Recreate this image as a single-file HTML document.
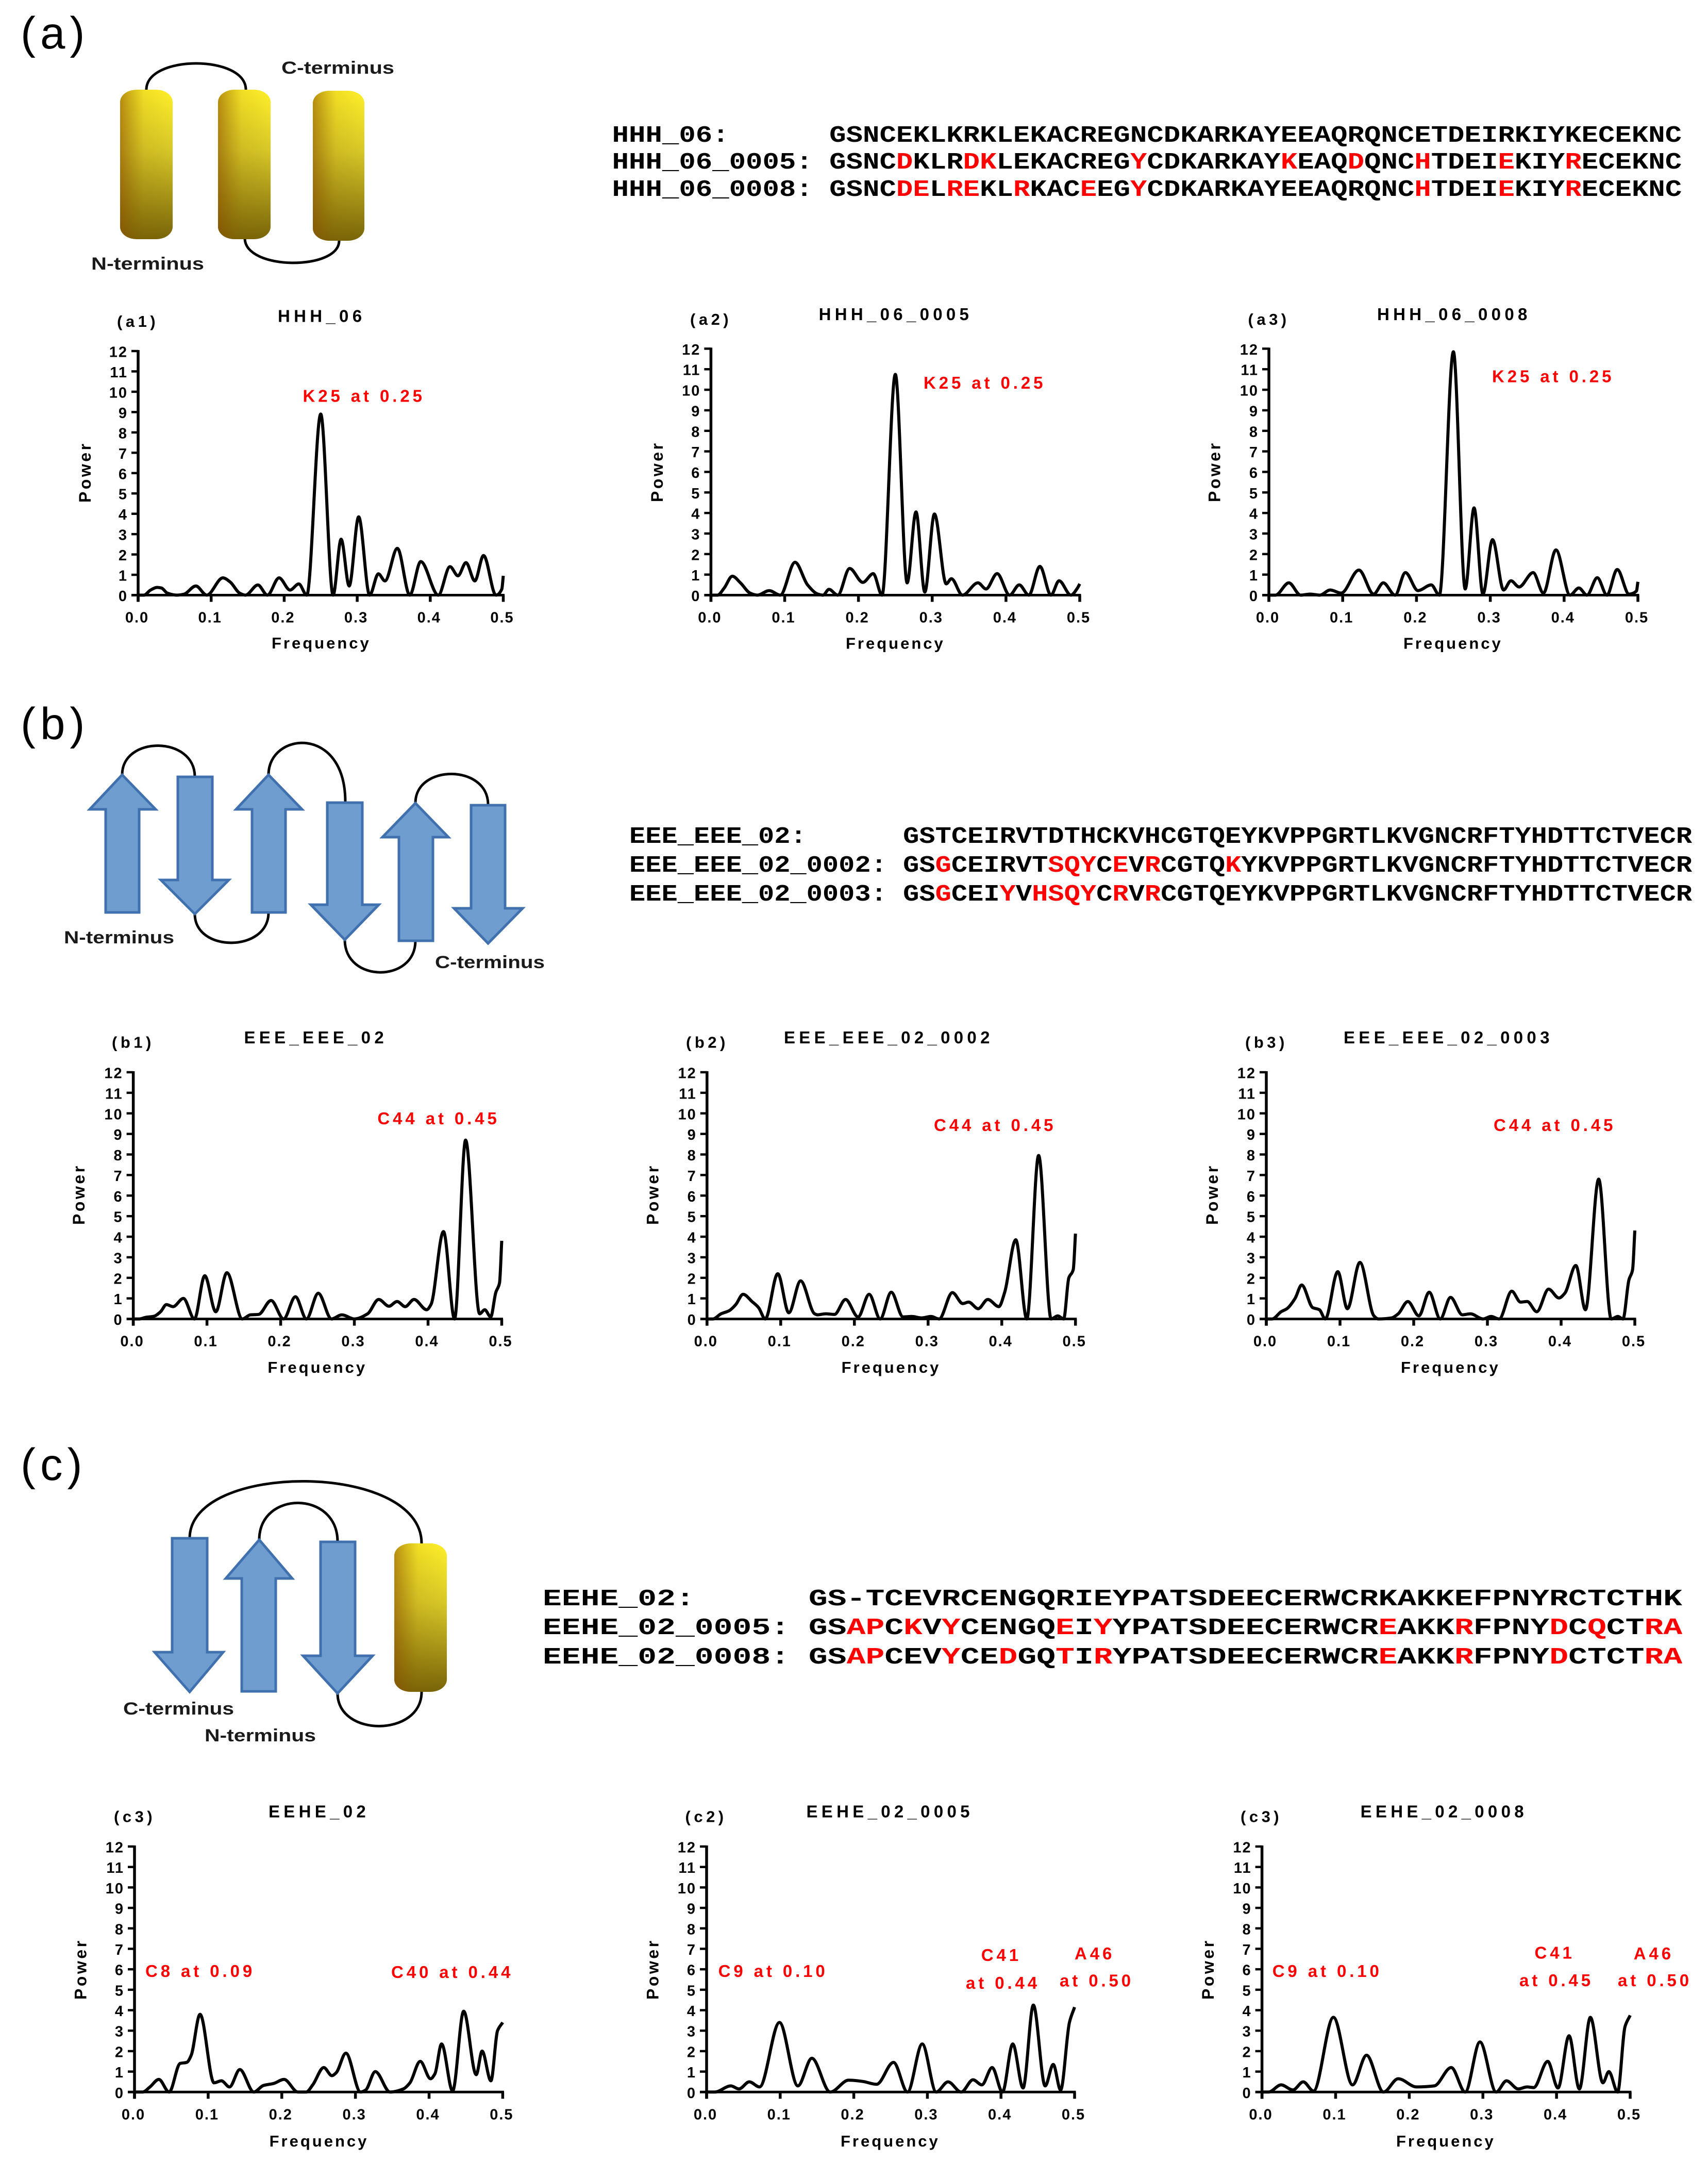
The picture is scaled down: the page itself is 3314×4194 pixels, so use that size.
<!DOCTYPE html>
<html lang="en">
<head>
<meta charset="utf-8">
<title>Protein periodograms</title>
<style>
html,body{margin:0;padding:0;background:#fff}
svg{display:block}
text{font-family:"Liberation Sans",Arial,sans-serif}
.seq{font-family:"Liberation Mono","Courier New",monospace;font-weight:700;font-size:45px;fill:#000;white-space:pre}
.m{fill:#f00}
.term{font-weight:700;font-size:34px;fill:#1a1a1a}
.sec{font-size:87px;letter-spacing:9px;fill:#000}
.loop{fill:none;stroke:#000;stroke-width:5;stroke-linecap:round}
.strand{fill:#709dd0;stroke:#4070ae;stroke-width:5;stroke-linejoin:miter}
</style>
</head>
<body>
<svg id="fig" xmlns="http://www.w3.org/2000/svg" width="3314" height="4194" viewBox="0 0 3314 4194">
<defs>
<linearGradient id="cylV" x1="0" y1="0" x2="0" y2="1"><stop offset="0" stop-color="#fff02a"/><stop offset="0.4" stop-color="#d8c828"/><stop offset="1" stop-color="#786408"/></linearGradient>
<linearGradient id="cylH" x1="0" y1="0" x2="1" y2="0"><stop offset="0" stop-color="#8a4c00" stop-opacity="0.6"/><stop offset="0.45" stop-color="#8a6000" stop-opacity="0.12"/><stop offset="1" stop-color="#8a6000" stop-opacity="0"/></linearGradient>
</defs>
<rect width="3314" height="4194" fill="#fff"/>

<text class="sec" x="40" y="94">(a)</text>
<text class="sec" x="40" y="1434">(b)</text>
<text class="sec" x="40" y="2871">(c)</text>

<g>
<path class="loop" d="M284 174C284 106 477 106 477 174"/>
<path class="loop" d="M475 462C475 525 658 525 658 467"/>
<rect x="233" y="174" width="102" height="290" rx="32" ry="24" fill="url(#cylV)"/>
<rect x="233" y="174" width="102" height="290" rx="32" ry="24" fill="url(#cylH)"/>
<rect x="423" y="174" width="102" height="290" rx="32" ry="24" fill="url(#cylV)"/>
<rect x="423" y="174" width="102" height="290" rx="32" ry="24" fill="url(#cylH)"/>
<rect x="607" y="176" width="100" height="291" rx="32" ry="24" fill="url(#cylV)"/>
<rect x="607" y="176" width="100" height="291" rx="32" ry="24" fill="url(#cylH)"/>
<text class="term" x="546" y="143" textLength="219" lengthAdjust="spacingAndGlyphs">C-terminus</text>
<text class="term" x="177" y="523" textLength="219" lengthAdjust="spacingAndGlyphs">N-terminus</text>
</g>

<g transform="translate(1187.6,0)">
<g transform="translate(0,275) scale(1.2013,1)"><text class="seq" xml:space="preserve">HHH_06:      GSNCEKLKRKLEKACREGNCDKARKAYEEAQRQNCETDEIRKIYKECEKNC</text></g>
<g transform="translate(0,327) scale(1.2013,1)"><text class="seq" xml:space="preserve">HHH_06_0005: GSNC<tspan class="m">D</tspan>KLR<tspan class="m">DK</tspan>LEKACREG<tspan class="m">Y</tspan>CDKARKAY<tspan class="m">K</tspan>EAQ<tspan class="m">D</tspan>QNC<tspan class="m">H</tspan>TDEI<tspan class="m">E</tspan>KIY<tspan class="m">R</tspan>ECEKNC</text></g>
<g transform="translate(0,380) scale(1.2013,1)"><text class="seq" xml:space="preserve">HHH_06_0008: GSNC<tspan class="m">DE</tspan>L<tspan class="m">RE</tspan>KL<tspan class="m">R</tspan>KAC<tspan class="m">E</tspan>EG<tspan class="m">Y</tspan>CDKARKAYEEAQRQNC<tspan class="m">H</tspan>TDEI<tspan class="m">E</tspan>KIY<tspan class="m">R</tspan>ECEKNC</text></g>
</g>

<g>
<path class="loop" d="M237 1503C237 1427 378 1427 378 1507"/>
<path class="loop" d="M521 1503C521 1420 670 1405 670 1556"/>
<path class="loop" d="M806 1558C806 1482 947 1482 947 1561"/>
<path class="loop" d="M378 1773C378 1848 521 1848 521 1770"/>
<path class="loop" d="M669 1823C669 1907 806 1907 806 1825"/>
<path class="strand" d="M205 1770V1570H174L237 1503L302 1570H270V1770Z"/>
<path class="strand" d="M345 1507V1707H312L378 1773L444 1707H412V1507Z"/>
<path class="strand" d="M489 1770V1570H458L521 1503L586 1570H554V1770Z"/>
<path class="strand" d="M635 1557V1755H603L669 1823L735 1755H703V1557Z"/>
<path class="strand" d="M774 1825V1624H742L806 1558L870 1624H840V1825Z"/>
<path class="strand" d="M914 1562V1762H881L947 1830L1014 1762H980V1562Z"/>
<text class="term" x="124" y="1830" textLength="214" lengthAdjust="spacingAndGlyphs">N-terminus</text>
<text class="term" x="844" y="1878" textLength="213" lengthAdjust="spacingAndGlyphs">C-terminus</text>
</g>

<g transform="translate(1221,0)">
<g transform="translate(0,1635) scale(1.1572,1)"><text class="seq" xml:space="preserve">EEE_EEE_02:      GSTCEIRVTDTHCKVHCGTQEYKVPPGRTLKVGNCRFTYHDTTCTVECR</text></g>
<g transform="translate(0,1691) scale(1.1572,1)"><text class="seq" xml:space="preserve">EEE_EEE_02_0002: GS<tspan class="m">G</tspan>CEIRVT<tspan class="m">SQY</tspan>C<tspan class="m">E</tspan>V<tspan class="m">R</tspan>CGTQ<tspan class="m">K</tspan>YKVPPGRTLKVGNCRFTYHDTTCTVECR</text></g>
<g transform="translate(0,1747) scale(1.1572,1)"><text class="seq" xml:space="preserve">EEE_EEE_02_0003: GS<tspan class="m">G</tspan>CEI<tspan class="m">Y</tspan>V<tspan class="m">HSQY</tspan>C<tspan class="m">R</tspan>V<tspan class="m">R</tspan>CGTQEYKVPPGRTLKVGNCRFTYHDTTCTVECR</text></g>
</g>

<g>
<path class="loop" d="M368 2984C368 2835 818 2835 818 2994"/>
<path class="loop" d="M503 2987C503 2891 655 2891 655 2991"/>
<path class="loop" d="M655 3285C655 3370 818 3370 818 3282"/>
<path class="strand" d="M334 2984V3205H300L368 3282L433 3205H402V2984Z"/>
<path class="strand" d="M469 3281V3062H438L503 2987L567 3062H535V3281Z"/>
<path class="strand" d="M622 2991V3212H588L655 3285L723 3212H689V2991Z"/>
<rect x="765" y="2994" width="102" height="288" rx="32" ry="24" fill="url(#cylV)"/>
<rect x="765" y="2994" width="102" height="288" rx="32" ry="24" fill="url(#cylH)"/>
<text class="term" x="239" y="3326" textLength="215" lengthAdjust="spacingAndGlyphs">C-terminus</text>
<text class="term" x="397" y="3378" textLength="216" lengthAdjust="spacingAndGlyphs">N-terminus</text>
</g>

<g transform="translate(1053,0)">
<g transform="translate(0,3114) scale(1.3649,1)"><text class="seq" xml:space="preserve">EEHE_02:      GS-TCEVRCENGQRIEYPATSDEECERWCRKAKKEFPNYRCTCTHK</text></g>
<g transform="translate(0,3170) scale(1.3649,1)"><text class="seq" xml:space="preserve">EEHE_02_0005: GS<tspan class="m">AP</tspan>C<tspan class="m">K</tspan>V<tspan class="m">Y</tspan>CENGQ<tspan class="m">E</tspan>I<tspan class="m">Y</tspan>YPATSDEECERWCR<tspan class="m">E</tspan>AKK<tspan class="m">R</tspan>FPNY<tspan class="m">D</tspan>C<tspan class="m">Q</tspan>CT<tspan class="m">RA</tspan></text></g>
<g transform="translate(0,3227) scale(1.3649,1)"><text class="seq" xml:space="preserve">EEHE_02_0008: GS<tspan class="m">AP</tspan>CEV<tspan class="m">Y</tspan>CE<tspan class="m">D</tspan>GQ<tspan class="m">T</tspan>I<tspan class="m">R</tspan>YPATSDEECERWCR<tspan class="m">E</tspan>AKK<tspan class="m">R</tspan>FPNY<tspan class="m">D</tspan>CTCT<tspan class="m">RA</tspan></text></g>
</g>

<g id="charts"></g>
</svg>

<script>
const xTicks = [0, 0.1, 0.2, 0.3, 0.4, 0.5];
const xTickLabels = ['0.0', '0.1', '0.2', '0.3', '0.4', '0.5'];
const yTicks = [0, 1, 2, 3, 4, 5, 6, 7, 8, 9, 10, 11, 12];
const yTickLabels = ['0', '1', '2', '3', '4', '5', '6', '7', '8', '9', '10', '11', '12'];

const freqA1 = [0,.008,.017,.026,.032,.04,.053,.063,.079,.094,.116,.126,.139,.147,.164,.177,.193,.208,.22,.231,.25,.267,.278,.289,.302,.317,.329,.338,.355,.372,.387,.411,.427,.438,.449,.461,.473,.49,.498,.5];
const powerA1 = [0,0,.25,.38,.35,.1,0,.05,.45,0,.85,.65,.1,0,.5,0,.85,.25,.55,0,8.9,0,2.75,.45,3.85,0,1.05,.7,2.3,0,1.65,0,1.4,.95,1.6,.7,1.95,0,.3,.95];

const freqA2 = [0,.009,.018,.029,.04,.053,.063,.079,.094,.114,.131,.145,.152,.16,.172,.188,.206,.22,.232,.25,.266,.278,.29,.303,.319,.326,.341,.362,.373,.388,.405,.418,.431,.446,.461,.472,.488,.497,.5];
const powerA2 = [0,0,.35,.92,.6,.1,0,.22,0,1.6,.5,.05,0,.28,0,1.3,.62,1.05,0,10.75,.6,4.05,.15,3.95,.55,.8,0,.6,.3,1.05,0,.5,0,1.4,0,.7,0,.35,.55];

const freqA3 = [0,.009,.027,.043,.056,.069,.083,.098,.122,.142,.155,.171,.185,.202,.22,.231,.25,.266,.278,.29,.303,.318,.328,.339,.358,.372,.389,.408,.42,.431,.445,.458,.472,.488,.498,.5];
const powerA3 = [0,0,.6,0,.05,0,.25,.1,1.22,.05,.6,0,1.1,.22,.5,0,11.85,.3,4.25,.05,2.7,.25,.7,.4,1.1,.1,2.2,0,.35,0,.85,0,1.25,.05,.2,.65];

const freqB1 = [0,.008,.017,.028,.037,.045,.054,.068,.083,.097,.112,.127,.148,.159,.17,.187,.204,.22,.235,.251,.269,.283,.3,.318,.333,.347,.358,.369,.381,.398,.404,.421,.436,.451,.47,.477,.485,.492,.497,.5];
const powerB1 = [0,0,.08,.13,.35,.7,.6,1,0,2.1,.35,2.25,0,.2,.22,.9,0,1.08,0,1.25,0,.2,0,.25,.95,.62,.85,.6,.95,.45,.7,4.25,0,8.7,.25,.45,.1,1.3,1.75,3.8];

const freqB2 = [0,.008,.019,.03,.039,.049,.061,.07,.079,.096,.111,.127,.146,.15,.161,.173,.188,.205,.22,.235,.25,.266,.278,.291,.304,.315,.333,.347,.355,.368,.381,.396,.404,.419,.434,.45,.467,.476,.484,.491,.497,.5];
const powerB2 = [0,0,.25,.4,.7,1.2,.85,.55,0,2.2,.3,1.85,.25,.2,.25,.22,.95,.1,1.2,0,1.3,.1,.12,.05,.12,0,1.28,.75,.82,.5,.95,.6,1.3,3.85,0,7.95,0,.15,0,2,2.4,4.15];

const freqB3 = [0,.008,.02,.028,.039,.048,.063,.072,.08,.097,.11,.127,.146,.152,.17,.179,.192,.207,.221,.236,.25,.266,.277,.294,.305,.316,.333,.345,.354,.367,.383,.397,.405,.42,.433,.451,.468,.477,.484,.492,.497,.5];
const powerB3 = [0,0,.35,.5,1,1.65,.55,.45,0,2.3,.5,2.75,.15,0,.05,.25,.85,.15,1.3,0,1.05,.2,.25,0,.12,0,1.35,.82,.85,.35,1.45,1.02,1.25,2.6,.45,6.8,0,.12,0,1.9,2.4,4.3];

const freqC1 = [0,.011,.021,.033,.047,.062,.071,.077,.089,.108,.118,.129,.143,.162,.175,.189,.203,.222,.233,.242,.257,.268,.274,.287,.307,.314,.327,.347,.365,.374,.388,.402,.408,.417,.432,.447,.464,.472,.484,.493,.5];
const powerC1 = [0,0,.25,.62,0,1.4,1.45,1.8,3.8,.45,.55,.25,1.1,0,.32,.42,.62,0,0,.35,1.2,.8,.95,1.9,0,.1,1,0,.15,.45,1.5,.65,.9,2.35,.05,3.95,.85,2,.55,3,3.4];

const freqC2 = [0,.011,.033,.044,.058,.072,.099,.124,.143,.168,.193,.212,.231,.254,.273,.293,.312,.328,.346,.362,.374,.388,.402,.416,.43,.444,.46,.471,.481,.493,.5];
const powerC2 = [0,0,.3,.15,.5,.25,3.4,.3,1.65,0,.58,.52,.38,1.45,0,2.35,0,.5,0,.6,.35,1.2,0,2.35,.2,4.25,.3,1.35,.1,3.4,4.15];

const freqC3 = [0,.009,.026,.042,.056,.07,.097,.123,.142,.165,.185,.21,.234,.257,.276,.296,.318,.332,.348,.36,.369,.388,.402,.417,.431,.446,.463,.471,.483,.493,.5];
const powerC3 = [0,0,.35,.1,.5,.05,3.65,.35,1.8,0,.65,.25,.3,1.2,0,2.45,0,.55,.15,.25,.22,1.5,.2,2.75,.15,3.65,.45,1,0,3.2,3.75];

const NS = 'http://www.w3.org/2000/svg';
const root = document.getElementById('charts');

function line(parent, name, x1, y1, x2, y2, w) {
  const el = document.createElementNS(NS, 'line');
  
  
  el.setAttribute('x1', x1);
  el.setAttribute('y1', y1);
  el.setAttribute('x2', x2);
  el.setAttribute('y2', y2);
  el.setAttribute('stroke', '#000');
  el.setAttribute('stroke-width', w);
  parent.appendChild(el);
}

function label(parent, name, str, x, y, size, spacing, color, anchor, rotate) {
  const el = document.createElementNS(NS, 'text');
  
  
  el.setAttribute('x', x);
  el.setAttribute('y', y);
  el.setAttribute('font-size', size);
  el.setAttribute('font-weight', '700');
  el.setAttribute('fill', color);
  el.setAttribute('text-anchor', anchor);
  el.style.letterSpacing = spacing + 'px';
  if (rotate) el.setAttribute('transform', 'rotate(-90 ' + x + ' ' + y + ')');
  el.textContent = str;
  parent.appendChild(el);
}

/* monotone cubic through the read values */
function curvePath(xs, ys) {
  const n = xs.length;
  const slopes = [];
  for (let i = 0; i < n - 1; i++) slopes.push((ys[i + 1] - ys[i]) / (xs[i + 1] - xs[i]));
  const t = [slopes[0]];
  for (let i = 1; i < n - 1; i++) {
    const a = slopes[i - 1], b = slopes[i];
    if (a * b <= 0) { t.push(0); continue; }
    const h0 = xs[i] - xs[i - 1], h1 = xs[i + 1] - xs[i];
    t.push(3 * (h0 + h1) / ((2 * h1 + h0) / a + (h1 + 2 * h0) / b));
  }
  t.push(slopes[n - 2]);
  let d = 'M' + xs[0].toFixed(1) + ' ' + ys[0].toFixed(1);
  for (let i = 0; i < n - 1; i++) {
    const h = (xs[i + 1] - xs[i]) / 3;
    d += 'C' + (xs[i] + h).toFixed(1) + ' ' + (ys[i] + t[i] * h).toFixed(1) + ' ' +
      (xs[i + 1] - h).toFixed(1) + ' ' + (ys[i + 1] - t[i + 1] * h).toFixed(1) + ' ' +
      xs[i + 1].toFixed(1) + ' ' + ys[i + 1].toFixed(1);
  }
  return d;
}

function drawChart(c) {
  const g = document.createElementNS(NS, 'g');
  
  
  root.appendChild(g);

  const xScale = f => c.x0 + (f / 0.5) * (c.x1 - c.x0);
  const yScale = p => c.y0 - (p / 12) * (c.y0 - c.yTop);

  label(g, 'panel-label', c.panel, c.panelX, c.panelY, 31, 6.5, '#000', 'start', false);
  label(g, 'chart-title', c.title, c.titleX, c.titleY, 33, 7.3, '#000', 'start', false);
  label(g, 'y-axis-title', 'Power', c.powerX, c.powerY, 32, 4.5, '#000', 'start', true);
  label(g, 'x-axis-title', 'Frequency', c.freqX, c.freqY, 31, 4, '#000', 'start', false);

  line(g, 'y-axis', c.x0, yScale(12) - 2, c.x0, c.y0 + 13, 5.5);
  line(g, 'x-axis', c.x0 - 13, c.y0, xScale(0.5) + 2.5, c.y0, 5);
  yTicks.forEach((v, i) => {
    if (v > 0) line(g, 'y-tick', c.x0 - 13, yScale(v), c.x0, yScale(v), 4.5);
    label(g, 'y-tick-label', yTickLabels[i], c.x0 - 20, yScale(v) + 11.5, 29, 2, '#000', 'end', false);
  });
  xTicks.forEach((v, i) => {
    line(g, 'x-tick', xScale(v), c.y0, xScale(v), c.y0 + 13, 5.5);
    label(g, 'x-tick-label', xTickLabels[i], xScale(v) - 2, c.y0 + 53, 29, 2, '#000', 'middle', false);
  });

  const path = document.createElementNS(NS, 'path');
  
  
  path.setAttribute('d', curvePath(c.freq.map(xScale), c.power.map(yScale)));
  path.setAttribute('fill', 'none');
  path.setAttribute('stroke', '#000');
  path.setAttribute('stroke-width', '6');
  path.setAttribute('stroke-linejoin', 'round');
  g.appendChild(path);

  c.notes.forEach(n => label(g, 'peak-annotation', n[0], n[1], n[2], 33, 5.9, '#f00', 'start', false));
}

drawChart({id:'a1',panel:'(a1)',title:'HHH_06',freq:freqA1,power:powerA1,x0:268,x1:976.5,yTop:681,y0:1154.5,
  panelX:227,panelY:634,titleX:539,titleY:624.5,powerX:176,powerY:975,freqX:527,freqY:1258,
  notes:[['K25 at 0.25',587.5,779.5]]});
drawChart({id:'a2',panel:'(a2)',title:'HHH_06_0005',freq:freqA2,power:powerA2,x0:1379.4,x1:2095,yTop:676.4,y0:1154.5,
  panelX:1339,panelY:630,titleX:1588.6,titleY:621,powerX:1286,powerY:974,freqX:1641,freqY:1258.6,
  notes:[['K25 at 0.25',1792,754]]});
drawChart({id:'a3',panel:'(a3)',title:'HHH_06_0008',freq:freqA3,power:powerA3,x0:2462,x1:3178,yTop:676.4,y0:1154.5,
  panelX:2421.5,panelY:630,titleX:2672,titleY:621,powerX:2367.6,powerY:974,freqX:2723,freqY:1258.6,
  notes:[['K25 at 0.25',2895,741.6]]});
drawChart({id:'b1',panel:'(b1)',title:'EEE_EEE_02',freq:freqB1,power:powerB1,x0:258.6,x1:973.5,yTop:2080,y0:2558.6,
  panelX:217,panelY:2032.7,titleX:473.5,titleY:2023.8,powerX:164,powerY:2376,freqX:519.4,freqY:2663,
  notes:[['C44 at 0.45',732.4,2181]]});
drawChart({id:'b2',panel:'(b2)',title:'EEE_EEE_02_0002',freq:freqB2,power:powerB2,x0:1371.8,x1:2086.7,yTop:2080,y0:2558.6,
  panelX:1331,panelY:2032.7,titleX:1521,titleY:2023.8,powerX:1277.4,powerY:2376,freqX:1632.6,freqY:2663,
  notes:[['C44 at 0.45',1812,2194]]});
drawChart({id:'b3',panel:'(b3)',title:'EEE_EEE_02_0003',freq:freqB3,power:powerB3,x0:2457,x1:3172,yTop:2080,y0:2558.6,
  panelX:2416,panelY:2032.7,titleX:2607,titleY:2023.8,powerX:2363,powerY:2376,freqX:2718,freqY:2663,
  notes:[['C44 at 0.45',2898,2194]]});
drawChart({id:'c1',panel:'(c3)',title:'EEHE_02',freq:freqC1,power:powerC1,x0:261,x1:975.4,yTop:3582,y0:4058.3,
  panelX:221,panelY:3534.6,titleX:521,titleY:3525.5,powerX:167.4,powerY:3879,freqX:522.6,freqY:4164,
  notes:[['C8 at 0.09',282,3835],['C40 at 0.44',759,3837]]});
drawChart({id:'c2',panel:'(c2)',title:'EEHE_02_0005',freq:freqC2,power:powerC2,x0:1371,x1:2085,yTop:3582,y0:4058.3,
  panelX:1329.5,panelY:3534.6,titleX:1564.5,titleY:3525.5,powerX:1277.4,powerY:3879,freqX:1631,freqY:4164,
  notes:[['C9 at 0.10',1393.6,3835],['C41',1903.8,3804],['at 0.44',1874,3858],['A46',2085,3801],['at 0.50',2056,3853.4]]});
drawChart({id:'c3',panel:'(c3)',title:'EEHE_02_0008',freq:freqC3,power:powerC3,x0:2448.6,x1:3163,yTop:3582,y0:4058.3,
  panelX:2407,panelY:3534.6,titleX:2639.6,titleY:3525.5,powerX:2355,powerY:3879,freqX:2709,freqY:4164,
  notes:[['C9 at 0.10',2468.7,3835],['C41',2977.5,3799.7],['at 0.45',2948,3853],['A46',3169.8,3801],['at 0.50',3139,3853]]});
</script>
</body>
</html>
